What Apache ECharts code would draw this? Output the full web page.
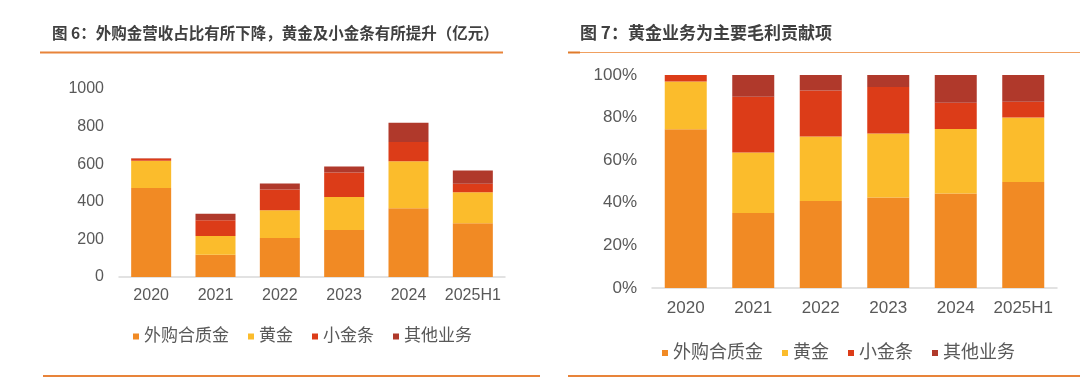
<!DOCTYPE html>
<html><head><meta charset="utf-8">
<script src="https://cdn.jsdelivr.net/npm/echarts@6/dist/echarts.min.js"></script>
<style>html,body{margin:0;padding:0;background:#fff}#c{width:1080px;height:377px}</style>
</head><body><div id="c"></div>
<script>
const categories = ['2020','2021','2022','2023','2024','2025H1'];
const seriesNames = ['外购合质金','黄金','小金条','其他业务'];
// Left chart: revenue (亿元)
const revWaigou = [474, 119, 208, 250, 366, 286];
const revGold   = [144, 99, 147, 176, 250, 165];
const revBar    = [12, 84, 110, 130, 102, 45];
const revOther  = [2, 35, 32, 32, 103, 71];
// Right chart: gross profit share (%)
const gpWaigou = [74.5, 35.2, 40.8, 42.5, 44.4, 49.8];
const gpGold   = [22.4, 28.4, 30.3, 30.0, 30.3, 30.2];
const gpBar    = [3.1, 26.2, 21.6, 21.9, 12.3, 7.5];
const gpOther  = [0, 10.2, 7.3, 5.6, 13.0, 12.5];
const leftTicks = [0, 200, 400, 600, 800, 1000];
const rightTicks = [0, 20, 40, 60, 80, 100];

const colors = ['#F18A24', '#FBBC2C', '#DC3C18', '#B0392B'];
const FF = '"Liberation Sans", Arial, "Noto Sans CJK SC", sans-serif';
const LBL = '#595959';

const chart = echarts.init(document.getElementById('c'), null, {renderer:'canvas'});
const leftData = [revWaigou, revGold, revBar, revOther];
const rightData = [gpWaigou, gpGold, gpBar, gpOther];
const series = [];
seriesNames.forEach((n,i)=>{
  series.push({name:n,type:'bar',stack:'L',xAxisIndex:0,yAxisIndex:0,barWidth:40,
    itemStyle:{color:colors[i]},data:leftData[i]});
});
seriesNames.forEach((n,i)=>{
  series.push({name:n,type:'bar',stack:'R',xAxisIndex:1,yAxisIndex:1,barWidth:42,
    itemStyle:{color:colors[i]},data:rightData[i]});
});

chart.setOption({
  animation:false,
  color:colors,
  textStyle:{fontFamily:FF},
  grid:[
    {left:119,right:575,top:89,bottom:100},
    {left:652,right:23,top:75,bottom:89}
  ],
  xAxis:[
    {type:'category',gridIndex:0,data:categories,axisTick:{show:false},
     axisLine:{lineStyle:{color:'#d9d9d9',width:1.5}},
     axisLabel:{color:LBL,fontSize:16,margin:11,fontFamily:FF,interval:0}},
    {type:'category',gridIndex:1,data:categories,axisTick:{show:false},
     axisLine:{lineStyle:{color:'#d9d9d9',width:1.5}},
     axisLabel:{color:LBL,fontSize:17,margin:12,fontFamily:FF,interval:0}}
  ],
  yAxis:[
    {type:'value',gridIndex:0,min:leftTicks[0],max:leftTicks[leftTicks.length-1],interval:200,
     splitLine:{show:false},axisLine:{show:false},axisTick:{show:false},
     axisLabel:{color:LBL,fontSize:16,margin:15,fontFamily:FF,formatter:v=>String(v)}},
    {type:'value',gridIndex:1,min:rightTicks[0],max:rightTicks[rightTicks.length-1],interval:20,
     splitLine:{show:false},axisLine:{show:false},axisTick:{show:false},
     axisLabel:{color:LBL,fontSize:17,margin:15,fontFamily:FF,formatter:'{value}%'}}
  ],
  legend:[
    {left:128,top:323,itemWidth:6,itemHeight:6,itemGap:19,icon:'rect',
     data:seriesNames,textStyle:{color:LBL,fontSize:17,fontFamily:FF}},
    {left:657,top:339,itemWidth:6,itemHeight:6,itemGap:19,icon:'rect',
     data:seriesNames,textStyle:{color:LBL,fontSize:18,fontFamily:FF}}
  ],
  graphic:[
    {type:'text',left:52,top:25,style:{text:'图 6：外购金营收占比有所下降，黄金及小金条有所提升（亿元）',
      fill:'#404040',font:'bold 15.5px "Noto Sans CJK SC", sans-serif'}},
    {type:'text',left:580,top:24,style:{text:'图 7：黄金业务为主要毛利贡献项',
      fill:'#404040',font:'bold 17px "Noto Sans CJK SC", sans-serif'}},
    {type:'rect',shape:{x:40,y:51.5,width:463,height:2},style:{fill:'#E8843A'}},
    {type:'rect',shape:{x:568,y:52,width:512,height:1},style:{fill:'#F0A060'}},
    {type:'rect',shape:{x:568,y:51.5,width:12,height:2},style:{fill:'#E07A2A'}},
    {type:'rect',shape:{x:43,y:375,width:497,height:2},style:{fill:'#E8843A'}},
    {type:'rect',shape:{x:568,y:375,width:512,height:2},style:{fill:'#E8843A'}}
  ],
  series:series
});
</script></body></html>
